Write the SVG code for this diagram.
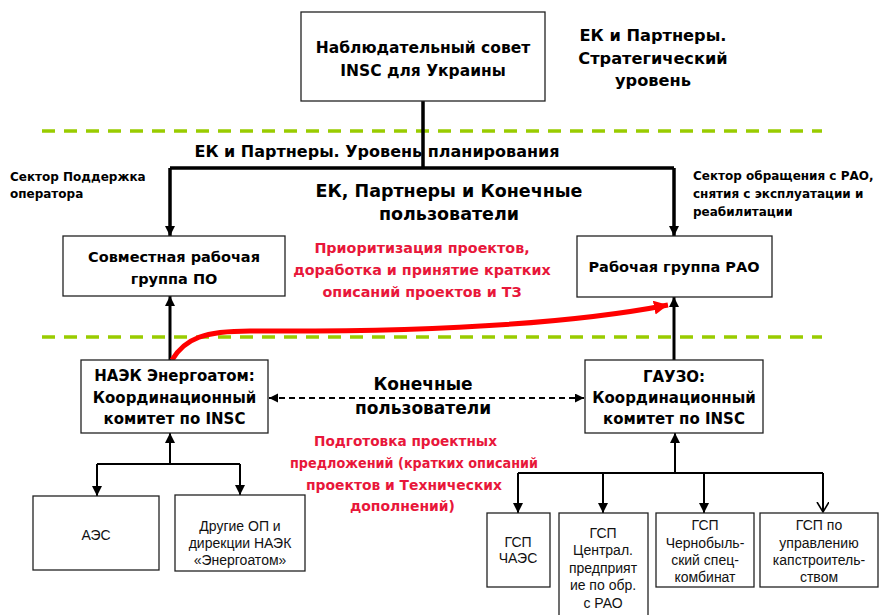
<svg xmlns="http://www.w3.org/2000/svg" width="879" height="615" viewBox="0 0 879 615">
<defs>
<style>
.bx{fill:#fff;stroke:#222;stroke-width:1.3}
.b{font-family:"DejaVu Sans","Noto Sans",sans-serif;font-weight:bold;fill:#000;text-anchor:middle}
.s{font-family:"DejaVu Sans","Noto Sans",sans-serif;font-weight:bold;fill:#000;text-anchor:start;font-size:12px}
.r{font-family:"DejaVu Sans","Noto Sans",sans-serif;font-weight:bold;fill:#e8173a;text-anchor:middle}
.n{font-family:"Liberation Sans",Arial,sans-serif;fill:#111;text-anchor:middle;font-size:14px}
.g{stroke:#99cc00;stroke-width:3.5;stroke-dasharray:13 9;fill:none}
.k{stroke:#000;fill:none}
</style>
<marker id="ah" markerUnits="userSpaceOnUse" markerWidth="12" markerHeight="12" refX="10" refY="5" orient="auto"><path d="M0,0 L10,5 L0,10 Z" fill="#000"/></marker>
<marker id="ahs" markerUnits="userSpaceOnUse" markerWidth="12" markerHeight="12" refX="9" refY="4.5" orient="auto-start-reverse"><path d="M0,0 L9,4.5 L0,9 Z" fill="#000"/></marker>
<marker id="aho" markerUnits="userSpaceOnUse" markerWidth="14" markerHeight="14" refX="10" refY="6" orient="auto"><path d="M0,0 L10,6 L0,12" fill="none" stroke="#000" stroke-width="1.6"/></marker>
<marker id="ahr" markerUnits="userSpaceOnUse" markerWidth="18" markerHeight="16" refX="14" refY="7" orient="auto"><path d="M0,0 L14,7 L0,14 Z" fill="#ff0000"/></marker>
</defs>

<line class="g" x1="42" y1="131" x2="822" y2="131"/>
<line class="g" x1="42" y1="337" x2="822" y2="337"/>

<g id="connectors">
<path class="k" stroke-width="3.5" d="M423,101 L423,168 M170,168 L674,168"/>
<path class="k" stroke-width="3.5" d="M170,168 L170,236" marker-end="url(#ah)"/>
<path class="k" stroke-width="3.5" d="M674,168 L674,236" marker-end="url(#ah)"/>
<path class="k" stroke-width="3" d="M170,360 L170,296" marker-end="url(#ah)"/>
<path class="k" stroke-width="3" d="M674,360 L674,297" marker-end="url(#ah)"/>
<path class="k" stroke-width="2" stroke-dasharray="6 4" d="M269,398 L584,398" marker-start="url(#ahs)" marker-end="url(#ahs)"/>
<path class="k" stroke-width="2" d="M170,464 L170,433" marker-end="url(#ah)"/>
<path class="k" stroke-width="2" d="M97,464 L240,464"/>
<path class="k" stroke-width="2" d="M97,464 L97,496" marker-end="url(#ah)"/>
<path class="k" stroke-width="2" d="M240,464 L240,495" marker-end="url(#ah)"/>
<path class="k" stroke-width="2" d="M675,473 L675,433" marker-end="url(#ah)"/>
<path class="k" stroke-width="2" d="M518,473 L823,473"/>
<path class="k" stroke-width="2" d="M518,473 L518,513" marker-end="url(#ah)"/>
<path class="k" stroke-width="2" d="M603,473 L603,513" marker-end="url(#ah)"/>
<path class="k" stroke-width="2" d="M704,473 L704,513" marker-end="url(#ah)"/>
<path class="k" stroke-width="2" d="M823,473 L823,512" marker-end="url(#aho)"/>
<path d="M172,360 C185,338 205,331 250,331 C400,332 560,326 668,305" fill="none" stroke="#ff0000" stroke-width="5" marker-end="url(#ahr)"/>
</g>

<g id="n-supervisory"><rect class="bx" x="301" y="12" width="244" height="89"/>
<text class="b" font-size="15.5" x="423" y="53">Наблюдательный совет</text>
<text class="b" font-size="15.5" x="423" y="76">INSC для Украины</text></g>

<g id="t-strategic">
<text class="b" font-size="16.2" x="653" y="41">ЕК и Партнеры.</text>
<text class="b" font-size="16.2" x="653" y="64">Стратегический</text>
<text class="b" font-size="16.2" x="653" y="86">уровень</text></g>

<text class="b" font-size="16" x="377" y="157">ЕК и Партнеры. Уровень планирования</text>
<text class="s" x="10" y="181">Сектор Поддержка</text>
<text class="s" x="10" y="198">оператора</text>
<text class="s" x="693" y="180">Сектор обращения с РАО,</text>
<text class="s" x="693" y="198">снятия с эксплуатации и</text>
<text class="s" x="693" y="216">реабилитации</text>
<text class="b" font-size="17.5" x="449" y="197">ЕК, Партнеры и Конечные</text>
<text class="b" font-size="17.5" x="449" y="220">пользователи</text>

<text class="r" font-size="14.3" x="422" y="253">Приоритизация проектов,</text>
<text class="r" font-size="14.3" x="422" y="275">доработка и принятие кратких</text>
<text class="r" font-size="14.3" x="422" y="297">описаний проектов и ТЗ</text>

<g id="n-po"><rect class="bx" x="63" y="236" width="222" height="60"/>
<text class="b" font-size="14.5" x="174" y="262">Совместная рабочая</text>
<text class="b" font-size="14.5" x="174" y="284">группа ПО</text></g>

<g id="n-rao"><rect class="bx" x="577" y="236" width="195" height="61"/>
<text class="b" font-size="14.5" x="674" y="272">Рабочая группа РАО</text></g>

<g id="n-naek"><rect class="bx" x="81" y="360" width="187" height="73"/>
<text class="b" font-size="15" x="174.5" y="381">НАЭК Энергоатом:</text>
<text class="b" font-size="15" x="174.5" y="403">Координационный</text>
<text class="b" font-size="15" x="174.5" y="424">комитет по INSC</text></g>

<g id="n-gauzo"><rect class="bx" x="585" y="360" width="178" height="73"/>
<text class="b" font-size="15" x="674" y="382">ГАУЗО:</text>
<text class="b" font-size="15" x="674" y="403">Координационный</text>
<text class="b" font-size="15" x="674" y="424">комитет по INSC</text></g>

<text class="b" font-size="17" x="423" y="390">Конечные</text>
<text class="b" font-size="17" x="423" y="414">пользователи</text>

<text class="r" font-size="14.5" x="405.5" y="446" textLength="183" lengthAdjust="spacingAndGlyphs">Подготовка проектных</text>
<text class="r" font-size="14.5" x="414" y="468" textLength="248" lengthAdjust="spacingAndGlyphs">предложений (кратких описаний</text>
<text class="r" font-size="14.5" x="404" y="490" textLength="196" lengthAdjust="spacingAndGlyphs">проектов и Технических</text>
<text class="r" font-size="14.5" x="402.5" y="511" textLength="105" lengthAdjust="spacingAndGlyphs">дополнений)</text>

<g id="n-aes"><rect class="bx" x="33" y="496" width="126" height="74"/>
<text class="n" x="96" y="540">АЭС</text></g>
<g id="n-other"><rect class="bx" x="175" y="495" width="130" height="76"/>
<text class="n" x="240" y="531">Другие ОП и</text>
<text class="n" x="240" y="548">дирекции НАЭК</text>
<text class="n" x="240" y="565">«Энергоатом»</text></g>

<g id="n-chaes"><rect class="bx" x="487" y="513" width="63" height="74"/>
<text class="n" x="518" y="547">ГСП</text>
<text class="n" x="518" y="563">ЧАЭС</text></g>
<g id="n-central"><rect class="bx" x="559" y="513" width="89" height="110"/>
<text class="n" x="603" y="538">ГСП</text>
<text class="n" x="603" y="555">Централ.</text>
<text class="n" x="603" y="573">предприят</text>
<text class="n" x="603" y="590">ие по обр.</text>
<text class="n" x="603" y="608">с РАО</text></g>
<g id="n-chernobyl"><rect class="bx" x="656" y="513" width="98" height="74"/>
<text class="n" x="705" y="530">ГСП</text>
<text class="n" x="705" y="548">Чернобыль-</text>
<text class="n" x="705" y="565">ский спец-</text>
<text class="n" x="705" y="582">комбинат</text></g>
<g id="n-kap"><rect class="bx" x="760" y="513" width="118" height="74"/>
<text class="n" x="819" y="530">ГСП по</text>
<text class="n" x="819" y="548">управлению</text>
<text class="n" x="819" y="565">капстроитель-</text>
<text class="n" x="819" y="582">ством</text></g>
</svg>
